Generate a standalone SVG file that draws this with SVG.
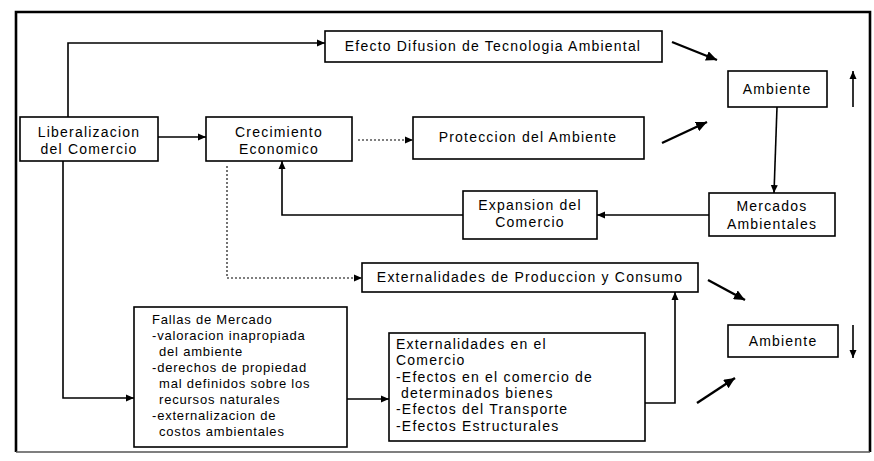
<svg xmlns="http://www.w3.org/2000/svg" width="874" height="461" viewBox="0 0 874 461">
<style>
  .box { fill: #fff; stroke: #000; stroke-width: 1.6; }
  .t { font-family: "Liberation Sans", Arial, sans-serif; font-size: 14px; letter-spacing: 1.2px; fill: #000; }
  .c { text-anchor: middle; }
  .s { font-size: 13px; letter-spacing: 0.8px; }
  .ln { fill: none; stroke: #000; stroke-width: 1.6; }
  .dot { fill: none; stroke: #000; stroke-width: 1.1; stroke-dasharray: 2 2; }
  .thick { fill: none; stroke: #000; stroke-width: 2.4; }
</style>
<defs>
  <marker id="ah" markerUnits="userSpaceOnUse" markerWidth="9" markerHeight="8" refX="8" refY="4" orient="auto">
    <path d="M0,0.5 L8,4 L0,7.5 Z" fill="#000"/>
  </marker>
  <marker id="ahb" markerUnits="userSpaceOnUse" markerWidth="12" markerHeight="10" refX="11" refY="5" orient="auto">
    <path d="M0,0 L11,5 L0,10 Z" fill="#000"/>
  </marker>
</defs>
<rect width="874" height="461" fill="#fff"/>
<g id="frame">
  <path d="M16,452 V12 H870 V452" fill="none" stroke="#000" stroke-width="2.6"/>
  <line x1="16" y1="452" x2="870" y2="452" stroke="#555" stroke-width="1.5"/>
</g>
<g id="connectors">
  <path class="ln" d="M68,117 V43 H325" marker-end="url(#ah)"/>
  <path class="ln" d="M158,137 H206" marker-end="url(#ah)"/>
  <path class="dot" d="M358,140 H413" marker-end="url(#ah)"/>
  <path class="thick" d="M672,42 L717,60" marker-end="url(#ahb)"/>
  <path class="thick" d="M662,143 L707,122" marker-end="url(#ahb)"/>
  <path class="ln" d="M853,107 V71" marker-end="url(#ah)"/>
  <path class="ln" d="M777,107 L774,193" marker-end="url(#ah)"/>
  <path class="ln" d="M709,215 H597" marker-end="url(#ah)"/>
  <path class="ln" d="M463,215 H282 V161" marker-end="url(#ah)"/>
  <path class="dot" d="M227,166 V278 H362" marker-end="url(#ah)"/>
  <path class="thick" d="M708,280 L745,300" marker-end="url(#ahb)"/>
  <path class="ln" d="M853,325 V358" marker-end="url(#ah)"/>
  <path class="thick" d="M697,403 L735,378" marker-end="url(#ahb)"/>
  <path class="ln" d="M645,403 H675 V292" marker-end="url(#ah)"/>
  <path class="ln" d="M63,161 V398 H134" marker-end="url(#ah)"/>
  <path class="ln" d="M347,399 H389" marker-end="url(#ah)"/>
</g>
<g id="lib">
  <rect class="box" x="20" y="117" width="138" height="44"/>
  <text class="t c" x="89" y="137">Liberalizacion</text>
  <text class="t c" x="89" y="154">del Comercio</text>
</g>
<g id="crec">
  <rect class="box" x="206" y="117" width="146" height="44"/>
  <text class="t c" x="279" y="137">Crecimiento</text>
  <text class="t c" x="279" y="154">Economico</text>
</g>
<g id="efecto">
  <rect class="box" x="325" y="31" width="337" height="31"/>
  <text class="t c" x="493" y="51">Efecto Difusion de Tecnologia Ambiental</text>
</g>
<g id="prot">
  <rect class="box" x="413" y="117" width="231" height="42"/>
  <text class="t c" x="528" y="142">Proteccion del Ambiente</text>
</g>
<g id="amb1">
  <rect class="box" x="728" y="71" width="99" height="36"/>
  <text class="t c" x="777" y="94">Ambiente</text>
</g>
<g id="merc">
  <rect class="box" x="709" y="193" width="126" height="43"/>
  <text class="t c" x="772" y="211">Mercados</text>
  <text class="t c" x="772" y="229">Ambientales</text>
</g>
<g id="exp">
  <rect class="box" x="463" y="191" width="134" height="48"/>
  <text class="t c" x="530" y="210">Expansion del</text>
  <text class="t c" x="530" y="227">Comercio</text>
</g>
<g id="extprod">
  <rect class="box" x="362" y="263" width="336" height="29"/>
  <text class="t c" x="530" y="282">Externalidades de Produccion y Consumo</text>
</g>
<g id="fallas">
  <rect class="box" x="134" y="307" width="213" height="140"/>
  <text class="t s" x="152" y="324">Fallas de Mercado</text>
  <text class="t s" x="152" y="340">-valoracion inapropiada</text>
  <text class="t s" x="159" y="356">del ambiente</text>
  <text class="t s" x="152" y="372">-derechos de propiedad</text>
  <text class="t s" x="159" y="388">mal definidos sobre los</text>
  <text class="t s" x="159" y="404">recursos naturales</text>
  <text class="t s" x="152" y="420">-externalizacion de</text>
  <text class="t s" x="159" y="436">costos ambientales</text>
</g>
<g id="extcom">
  <rect class="box" x="389" y="333" width="256" height="108"/>
  <text class="t" x="396" y="349">Externalidades en el</text>
  <text class="t" x="396" y="365">Comercio</text>
  <text class="t" x="396" y="382">-Efectos en el comercio de</text>
  <text class="t" x="401" y="398">determinados bienes</text>
  <text class="t" x="396" y="414">-Efectos del Transporte</text>
  <text class="t" x="396" y="431">-Efectos Estructurales</text>
</g>
<g id="amb2">
  <rect class="box" x="728" y="325" width="110" height="32"/>
  <text class="t c" x="783" y="346">Ambiente</text>
</g>
</svg>
